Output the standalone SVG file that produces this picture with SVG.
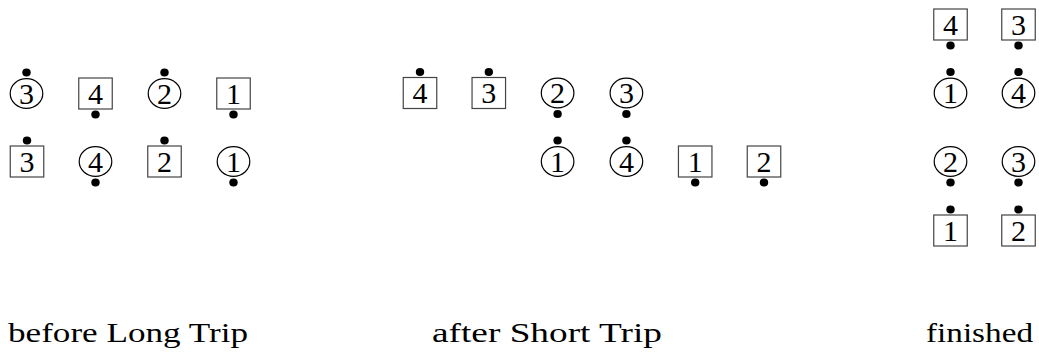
<svg xmlns="http://www.w3.org/2000/svg" width="1039" height="354" viewBox="0 0 1039 354">
<style>
.bg{fill:#fff}
.box{fill:#fff;stroke:#444;stroke-width:1.2}
.cir{fill:#fff;stroke:#000;stroke-width:1.2}
.dot{fill:#000}
.num{font-size:30px;text-anchor:middle;fill:#000}
.lbl{font-size:27px;fill:#000}
</style>
<defs>
<rect id="B" class="box" x="-16.75" y="-15.5" width="33.5" height="31"/>
<ellipse id="C" class="cir" cx="0" cy="0" rx="16.3" ry="14.8"/>
<ellipse id="DT" class="dot" cx="0" cy="-21" rx="4.2" ry="4"/>
<ellipse id="DB" class="dot" cx="0" cy="21" rx="4.2" ry="4"/>
</defs>
<rect class="bg" x="0" y="0" width="1039" height="354"/>
<g id="connectors"/>
<g font-family="Liberation Serif, Times New Roman, serif">
<!-- group 1 -->
<g id="g1-c3" transform="translate(26.5,93.5)"><use href="#C"/><use href="#DT"/><text class="num" y="10">3</text></g>
<g id="g1-b4" transform="translate(95.5,93.5)"><use href="#B"/><use href="#DB"/><text class="num" y="10">4</text></g>
<g id="g1-c2" transform="translate(164.5,93.5)"><use href="#C"/><use href="#DT"/><text class="num" y="10">2</text></g>
<g id="g1-b1" transform="translate(233.5,93.5)"><use href="#B"/><use href="#DB"/><text class="num" y="10">1</text></g>
<g id="g1-b3" transform="translate(27,161.5)"><use href="#B"/><use href="#DT"/><text class="num" y="10">3</text></g>
<g id="g1-c4" transform="translate(95.5,161.5)"><use href="#C"/><use href="#DB"/><text class="num" y="10">4</text></g>
<g id="g1-b2" transform="translate(164.5,161.5)"><use href="#B"/><use href="#DT"/><text class="num" y="10">2</text></g>
<g id="g1-c1" transform="translate(233.5,161.5)"><use href="#C"/><use href="#DB"/><text class="num" y="10">1</text></g>
<!-- group 2 -->
<g id="g2-b4" transform="translate(420,93)"><use href="#B"/><use href="#DT"/><text class="num" y="10">4</text></g>
<g id="g2-b3" transform="translate(488.8,93)"><use href="#B"/><use href="#DT"/><text class="num" y="10">3</text></g>
<g id="g2-c2" transform="translate(557.6,93)"><use href="#C"/><use href="#DB"/><text class="num" y="10">2</text></g>
<g id="g2-c3" transform="translate(626.4,93)"><use href="#C"/><use href="#DB"/><text class="num" y="10">3</text></g>
<g id="g2-c1" transform="translate(557.6,161.5)"><use href="#C"/><use href="#DT"/><text class="num" y="10">1</text></g>
<g id="g2-c4" transform="translate(626.4,161.5)"><use href="#C"/><use href="#DT"/><text class="num" y="10">4</text></g>
<g id="g2-b1" transform="translate(695.2,161.5)"><use href="#B"/><use href="#DB"/><text class="num" y="10">1</text></g>
<g id="g2-b2" transform="translate(764,161.5)"><use href="#B"/><use href="#DB"/><text class="num" y="10">2</text></g>
<!-- group 3 -->
<g id="g3-b4" transform="translate(950.5,24.5)"><use href="#B"/><use href="#DB"/><text class="num" y="10">4</text></g>
<g id="g3-b3" transform="translate(1018.5,24.5)"><use href="#B"/><use href="#DB"/><text class="num" y="10">3</text></g>
<g id="g3-c1" transform="translate(950.5,93)"><use href="#C"/><use href="#DT"/><text class="num" y="10">1</text></g>
<g id="g3-c4" transform="translate(1018.5,93)"><use href="#C"/><use href="#DT"/><text class="num" y="10">4</text></g>
<g id="g3-c2" transform="translate(950.5,161.5)"><use href="#C"/><use href="#DB"/><text class="num" y="10">2</text></g>
<g id="g3-c3" transform="translate(1018.5,161.5)"><use href="#C"/><use href="#DB"/><text class="num" y="10">3</text></g>
<g id="g3-b1" transform="translate(950.5,230.5)"><use href="#B"/><use href="#DT"/><text class="num" y="10">1</text></g>
<g id="g3-b2" transform="translate(1018.5,230.5)"><use href="#B"/><use href="#DT"/><text class="num" y="10">2</text></g>
<!-- labels -->
<g id="labels">
<text class="lbl" x="8" y="342" textLength="240" lengthAdjust="spacingAndGlyphs">before Long Trip</text>
<text class="lbl" x="432" y="342" textLength="230" lengthAdjust="spacingAndGlyphs">after Short Trip</text>
<text class="lbl" x="926" y="342" textLength="107" lengthAdjust="spacingAndGlyphs">finished</text>
</g>
</g>
</svg>
